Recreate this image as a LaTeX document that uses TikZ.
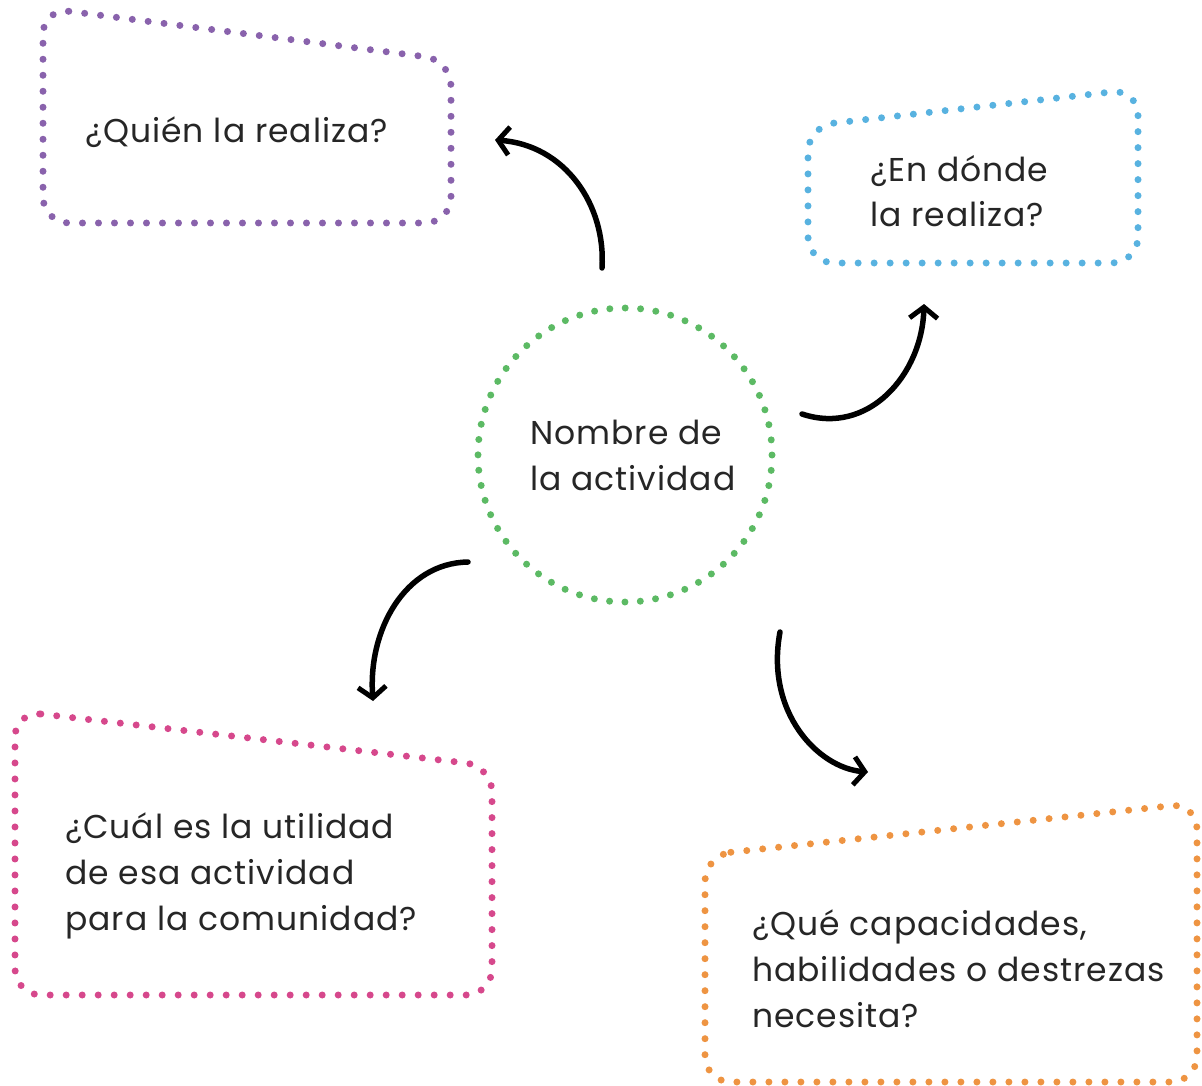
\documentclass[tikz,border=0pt]{standalone}
\usepackage{fontspec}
\setmainfont[LetterSpace=3]{Poppins}
\usetikzlibrary{arrows.meta}
\definecolor{cpurple}{RGB}{137,98,172}
\definecolor{cblue}{RGB}{88,178,224}
\definecolor{cgreen}{RGB}{92,186,100}
\definecolor{cpink}{RGB}{214,72,140}
\definecolor{corange}{RGB}{238,148,66}
\tikzset{
  dotline/.style={line width=7pt, line cap=round, dash pattern=on 0pt off 16pt, rounded corners=26pt},
  label/.style={font=\fontsize{33}{46}\selectfont, align=left, anchor=base west, inner sep=0pt, text=black!85},
  curvearrow/.style={line width=5.5pt, line cap=round, -{Straight Barb[length=11pt,width=28pt,line width=5pt]}}
}
\begin{document}
\begin{tikzpicture}[x=1pt,y=-1pt]
\useasboundingbox (0,0) rectangle (1202,1086);
% boxes
\draw[dotline, cpurple] (43,8) -- (451,60) -- (451,223) -- (43,223) -- cycle;
\draw[dotline, cblue] (808,126) -- (1138,89) -- (1138,263) -- (808,263) -- cycle;
\draw[dotline, cpink] (15,711) -- (492,766) -- (492,995) -- (15,995) -- cycle;
\draw[dotline, corange] (705,855) -- (1197,803) -- (1197,1082) -- (705,1082) -- cycle;
\draw[line width=7pt, line cap=round, dash pattern=on 0pt off 15.4pt, cgreen] (625,455) circle[radius=147];
% texts (anchor = baseline of the last line)
\node[label] (quien) at (85,143) {¿Quién la realiza?};
\node[label] (donde) at (870,227) {¿En dónde\\la realiza?};
\node[label] (nombre) at (530,490) {Nombre de\\la actividad};
\node[label] (cual) at (65,930) {¿Cuál es la utilidad\\de esa actividad\\para la comunidad?};
\node[label] (que) at (752,1027) {¿Qué capacidades,\\habilidades o destrezas\\necesita?};
% arrow end points
\coordinate (a1s) at (602,268);
\coordinate (a1e) at (495,140);
\coordinate (a2s) at (802,414);
\coordinate (a2e) at (924,304);
\coordinate (a3s) at (468,562);
\coordinate (a3e) at (373,701);
\coordinate (a4s) at (780,632);
\coordinate (a4e) at (868,772);
\draw[curvearrow] (a1s) .. controls (606,205) and (565,145) .. (a1e);
\draw[curvearrow] (a2s) .. controls (868,436) and (922,375) .. (a2e);
\draw[curvearrow] (a3s) .. controls (405,563) and (368,630) .. (a3e);
\draw[curvearrow] (a4s) .. controls (765,712) and (818,768) .. (a4e);
\end{tikzpicture}
\end{document}
